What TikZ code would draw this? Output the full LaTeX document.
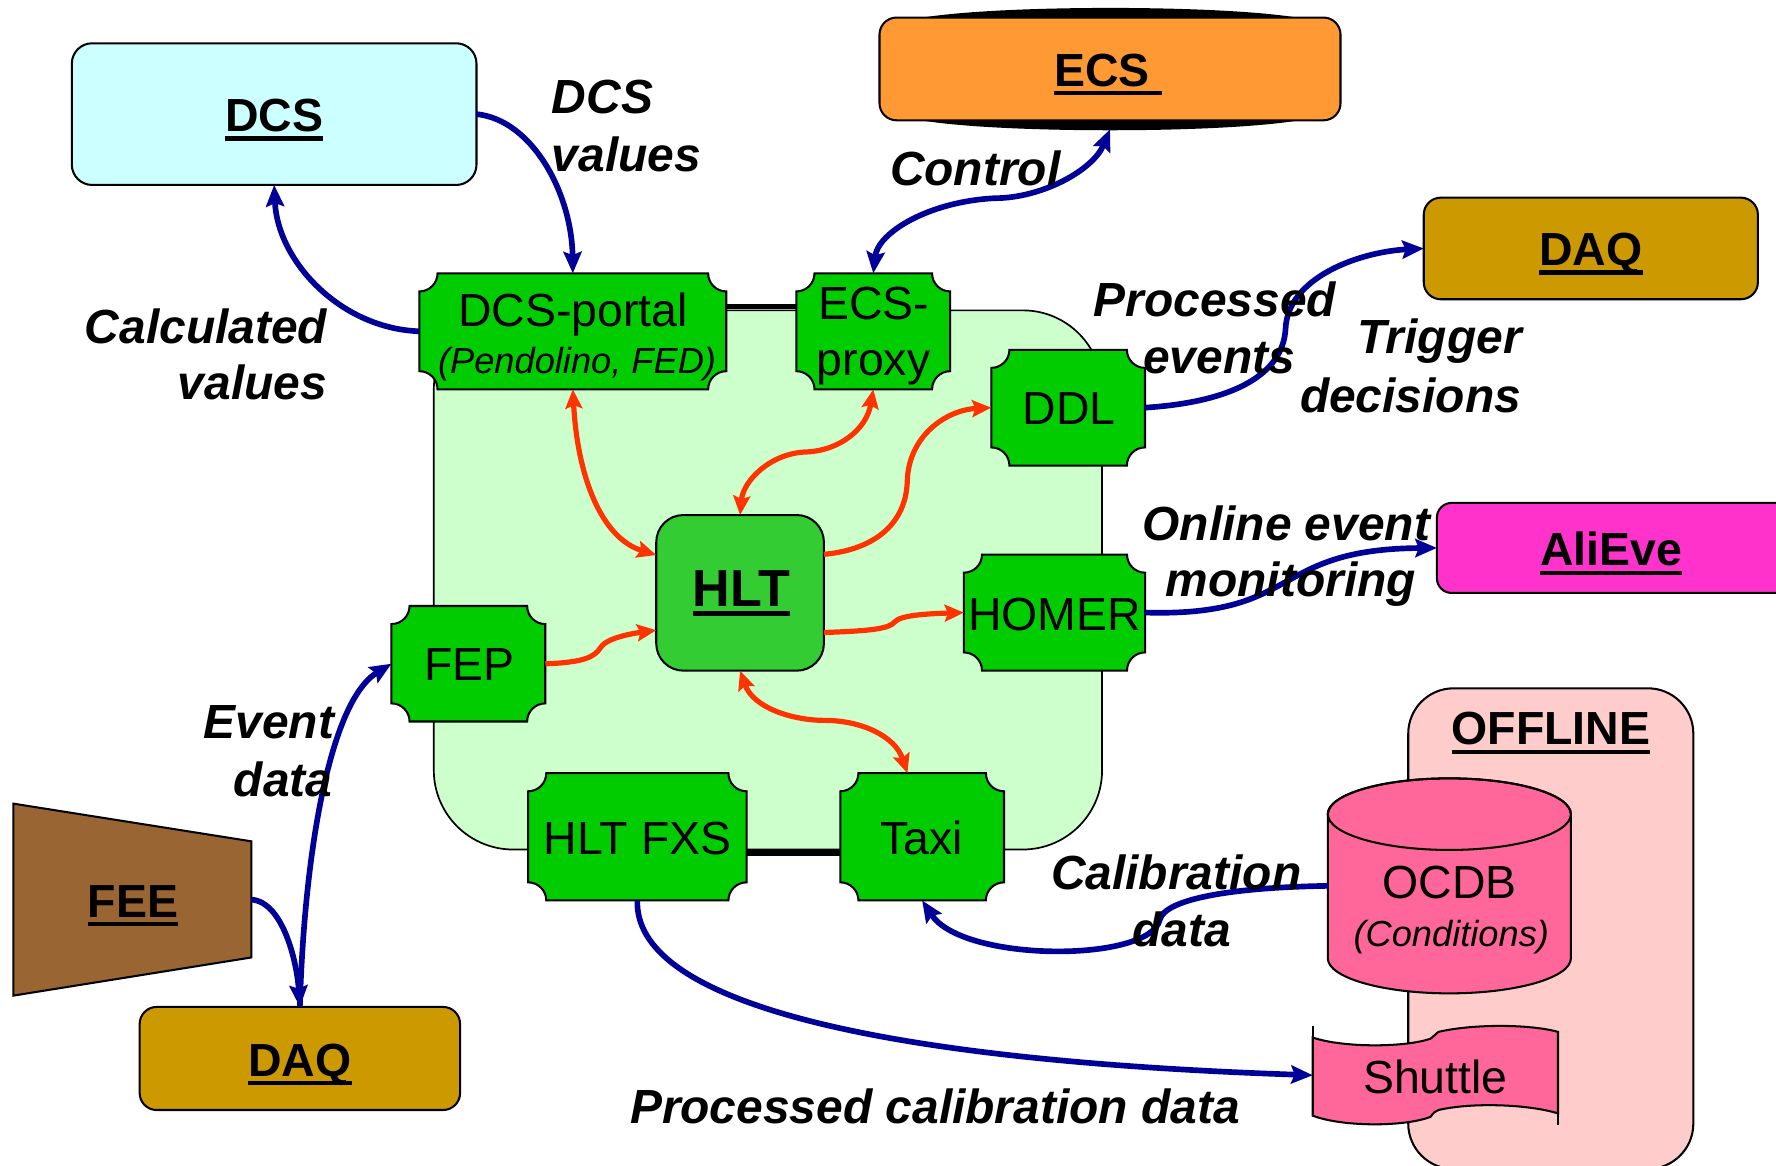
\documentclass[tikz,border=0pt]{standalone}
\usepackage{fontspec}
\setmainfont{Liberation Sans}
\usetikzlibrary{arrows.meta,calc}
\definecolor{dcsc}{HTML}{CCFFFF}
\definecolor{ecsc}{HTML}{FF9933}
\definecolor{daqc}{HTML}{CC9900}
\definecolor{alic}{HTML}{FF33CC}
\definecolor{offc}{HTML}{FFCCCC}
\definecolor{ocdbc}{HTML}{FF6699}
\definecolor{feec}{HTML}{996633}
\definecolor{plqc}{HTML}{00CC00}
\definecolor{hltc}{HTML}{33CC33}
\definecolor{panc}{HTML}{CCFFCC}
\definecolor{bluec}{HTML}{000099}
\definecolor{orc}{HTML}{FF3300}
\newsavebox\ulbox
\newcommand\ulx[1]{\sbox\ulbox{#1}\rlap{\rule[-8pt]{\wd\ulbox}{3.8pt}}\usebox\ulbox}
\tikzset{
 ttl/.style={font=\fontsize{41}{48}\selectfont\bfseries, inner sep=0pt, anchor=base},
 txt/.style={font=\fontsize{41}{48}\selectfont, inner sep=0pt, anchor=base},
 sub/.style={font=\fontsize{32}{38}\selectfont\itshape, inner sep=0pt, anchor=base},
 lab/.style={font=\fontsize{42.3}{48}\selectfont\bfseries\itshape, inner sep=0pt, anchor=base},
 outl/.style={draw=black, line width=1.8pt},
 plq/.style={outl, fill=plqc},
 boxn/.style={rectangle, inner sep=0pt, outer sep=0pt},
 bl/.style={draw=bluec, line width=5pt, -{Stealth[length=19pt,width=16pt,inset=3pt]}},
 bltwo/.style={draw=bluec, line width=5pt, {Stealth[length=19pt,width=16pt,inset=3pt]}-{Stealth[length=19pt,width=16pt,inset=3pt]}},
 orone/.style={draw=orc, line width=4.6pt, -{Stealth[length=17pt,width=15pt,inset=3pt]}},
 ortwo/.style={draw=orc, line width=4.6pt, {Stealth[length=17pt,width=15pt,inset=3pt]}-{Stealth[length=17pt,width=15pt,inset=3pt]}},
 link/.style={draw=black, line width=5pt},
}
% style, name, x1, y1, x2, y2
\newcommand\mkbox[6]{\node[boxn, outl, #1, minimum width={(#5-#3)*1pt}, minimum height={(#6-#4)*1pt}] (#2) at ({(#3+#5)/2},{(#4+#6)/2}) {};}
% name, x1, y1, x2, y2
\newcommand\mkplaq[5]{%
 \path[plq] (#2+16,#3) -- (#4-16,#3) arc[start angle=180,end angle=270,radius=16pt]
   -- (#4,#5-16) arc[start angle=90,end angle=180,radius=16pt]
   -- (#2+16,#5) arc[start angle=0,end angle=90,radius=16pt]
   -- (#2,#3+16) arc[start angle=-90,end angle=0,radius=16pt] -- cycle;
 \node[boxn, minimum width={(#4-#2)*1pt}, minimum height={(#5-#3)*1pt}] (#1) at ({(#2+#4)/2},{(#3+#5)/2}) {};}
\begin{document}
\begin{tikzpicture}[x=1pt,y=-1pt]
\useasboundingbox (0,0) rectangle (1568,1028.6);
\clip (0,0) rectangle (1568,1028.6);
% panels
\mkbox{fill=offc, rounded corners=40pt}{offl}{1243.3}{607.7}{1495}{1032}
\mkbox{fill=panc, rounded corners=70pt, line width=1.5pt}{panel}{383}{274}{973}{750}
% top boxes
\mkbox{fill=dcsc, rounded corners=18pt}{dcs}{63.4}{38.2}{420.7}{163.3}
\fill (812,16) .. controls (880,4) and (1080,4) .. (1148,16) -- cycle;
\fill (812,106) .. controls (880,118) and (1080,118) .. (1148,106) -- cycle;
\mkbox{fill=ecsc, rounded corners=15pt}{ecs}{776.5}{15.5}{1183.5}{106.2}
\mkbox{fill=daqc, rounded corners=15pt}{daqt}{1257}{174.5}{1552}{264.2}
\mkbox{fill=alic, rounded corners=13pt}{aliv}{1268.6}{444}{1590}{523.5}
\mkbox{fill=daqc, rounded corners=15pt}{daqb}{123.3}{889}{406.2}{980}
% FEE
\node[boxn, minimum width=210.2pt, minimum height=169.5pt] (fee) at (116.9,794.25) {};
\draw[outl, fill=feec] (fee.north west) -- ($(fee.north east)+(0,33.3)$) -- ($(fee.south east)+(0,-33.7)$) -- (fee.south west) -- cycle;
% OCDB
\draw[outl, fill=ocdbc] (1172.3,718.8) -- (1172.3,846) arc[start angle=180,end angle=360,x radius=107.3pt,y radius=31pt] -- (1386.9,718.8) arc[start angle=0,end angle=180,x radius=107.3pt,y radius=31.6pt] -- cycle;
\draw[outl] (1279.6,718.8) ellipse [x radius=107.3pt, y radius=31.6pt];
\node[boxn, minimum width=214.6pt, minimum height=190pt] (ocdb) at (1279.6,782.1) {};
% Shuttle
\draw[outl, fill=ocdbc] (1159,916) .. controls (1185,925) and (1240,925) .. (1263,917) .. controls (1266,914) .. (1270,911) .. controls (1300,904) and (1350,904) .. (1375.5,911) -- (1375.5,983) .. controls (1350,975) and (1300,973) .. (1270,980) .. controls (1266,982) .. (1263,986) .. controls (1240,995) and (1185,995) .. (1159,985) -- cycle;
\draw[outl] (1159,916) -- (1159,906);
\draw[outl] (1375.5,983) -- (1375.5,993);
\node[boxn, minimum width=216.5pt, minimum height=70pt] (shut) at (1267.25,949.3) {};
% green nodes
\mkplaq{dcsp}{370.3}{241.3}{641.2}{343.7}
\mkplaq{ecsp}{703.1}{241.3}{838.9}{343.7}
\mkplaq{ddl}{875.2}{308.8}{1010.9}{411}
\mkplaq{homer}{851}{489.6}{1011}{592}
\mkplaq{fep}{345.6}{535}{481.4}{637}
\mkplaq{fxs}{466.3}{682.6}{659.1}{795}
\mkplaq{taxi}{741.9}{682.6}{886.4}{795}
\mkbox{fill=hltc, rounded corners=24pt}{hlt}{579.4}{454.7}{727.4}{592.1}
% links
\draw[link] ($(dcsp.east)+(0,-22)$) -- ($(ecsp.west)+(0,-22)$);
\draw[link] ($(fxs.east)+(0,14.5)$) -- ($(taxi.west)+(0,14.5)$);
% blue connectors
\draw[bl] (dcs.east) .. controls +(49,5) and +(-1,-71) .. (dcsp.north);
\draw[bl] (dcsp.west) .. controls +(-70,-2.5) and +(3,67) .. (dcs.south);
\coordinate (mecs) at (878,175);
\draw[bltwo] ($(ecs.south)+(0,8)$) .. controls +(-15,36) and +(42,0) .. (mecs) .. controls +(-58,3) and +(4,-36) .. (ecsp.north);
\coordinate (mddl) at (1135,290);
\draw[bl] (ddl.east) .. controls +(79,-5) and +(-2,40) .. (mddl) .. controls +(2,-45) and +(-57,3) .. (daqt.west);
\draw[bl] (homer.east) .. controls +(139,4) and +(-148.6,1) .. (aliv.west);
\coordinate (mocdb) at (1024,812);
\draw[bl] (ocdb.west) .. controls +(-92,1.5) and +(4,-17) .. (mocdb) .. controls +(-9,38) and +(36,55) .. (taxi.south);
\draw[bl] (fxs.south) .. controls +(-2.5,85) and +(-409,-14) .. (shut.west);
\draw[bl] (fee.east) .. controls +(28,2) and +(-2.5,-39) .. (daqb.north);
\draw[bl] (daqb.north) .. controls +(3.5,-129) and +(-55.6,34) .. (fep.west);
% orange connectors
\draw[ortwo] (dcsp.south) .. controls +(4,76) and +(-49,-15) .. ($(hlt.west)+(0,-33.4)$);
\coordinate (mecp) at (712,399);
\draw[ortwo] (ecsp.south) .. controls +(-6,36) and +(28,-1) .. (mecp) .. controls +(-32,1) and +(2.6,-30) .. (hlt.north);
\coordinate (mddlo) at (801,425);
\draw[orone] ($(hlt.east)+(0,-34)$) .. controls +(47.6,-4.4) and +(-1,35) .. (mddlo) .. controls +(1,-40) and +(-40,2) .. (ddl.west);
\coordinate (mhom) at (790,549);
\draw[orone] ($(hlt.east)+(0,35)$) .. controls +(42.6,-1.4) and +(-5,6) .. (mhom) .. controls +(5,-6) and +(-31,1) .. (homer.west);
\coordinate (mfep) at (530,572);
\draw[orone] (fep.east) .. controls +(33.6,-1) and +(-5,8) .. (mfep) .. controls +(5,-9) and +(-19.4,2.6) .. ($(hlt.west)+(0,33)$);
\coordinate (mtaxi) at (728,636);
\draw[ortwo] (hlt.south) .. controls +(11.6,33) and +(-28,0) .. (mtaxi) .. controls +(32,0) and +(-11,-33) .. ($(taxi.north)+(-13,0)$);
% box titles
\node[ttl] (tdcs) at (242,116.3) {\ulx{DCS}};
\node[ttl, anchor=base west] (tecs) at (930.4,76.1) {\ulx{ECS\ }};
\node[ttl] (tdaqt) at (1404.7,234.5) {\ulx{DAQ}};
\node[ttl] (taliv) at (1422.7,499.7) {\ulx{AliEve}};
\node[ttl, font=\fontsize{46}{52}\selectfont\bfseries] (thlt) at (654.4,535.6) {\ulx{HLT}};
\node[ttl] (tfee) at (117.4,809.7) {\ulx{FEE}};
\node[ttl] (tdaqb) at (264.9,950.3) {\ulx{DAQ}};
\node[ttl] (toff) at (1369.3,657.7) {\ulx{OFFLINE}};
% node texts
\node[txt] (tdcsp) at (505.8,288.4) {DCS-portal};
\node[sub] (tdcsp2) at (509.5,329.6) {(Pendolino, FED)};
\node[txt] (tecsp) at (771.3,282.5) {ECS-};
\node[txt] (tecsp2) at (771.3,331.4) {proxy};
\node[txt] (tddl) at (944.1,375.1) {DDL};
\node[txt] (thomer) at (931,556.5) {HOMER};
\node[txt] (tfep) at (414.6,601) {FEP};
\node[txt] (tfxs) at (563,754.2) {HLT FXS};
\node[txt] (ttaxi) at (813.5,754.2) {Taxi};
\node[txt] (tocdb) at (1280,793.1) {OCDB};
\node[sub] (tocdb2) at (1281.3,835.8) {(Conditions)};
\node[txt] (tshut) at (1267.2,965.2) {Shuttle};
% connector labels
\node[lab, anchor=base west] (l1a) at (487,100) {DCS};
\node[lab, anchor=base west] (l1b) at (487,151.6) {values};
\node[lab, anchor=base east] (l2a) at (289,303) {Calculated};
\node[lab, anchor=base east] (l2b) at (289,353) {values};
\node[lab] (l3) at (861,164) {Control};
\node[lab] (l4a) at (1072.5,279.2) {Processed};
\node[lab] (l4b) at (1076.4,329.8) {events};
\node[lab] (l5a) at (1271,312.3) {Trigger};
\node[lab] (l5b) at (1245.3,364) {decisions};
\node[lab] (l6a) at (1135.7,477.4) {Online event};
\node[lab] (l6b) at (1139.6,526.9) {monitoring};
\node[lab] (l7a) at (237.4,652.2) {Event};
\node[lab] (l7b) at (250,703.1) {data};
\node[lab] (l8a) at (1038.4,785.2) {Calibration};
\node[lab] (l8b) at (1043.2,835.5) {data};
\node[lab] (l9) at (825.5,992.1) {Processed calibration data};
\end{tikzpicture}
\end{document}
